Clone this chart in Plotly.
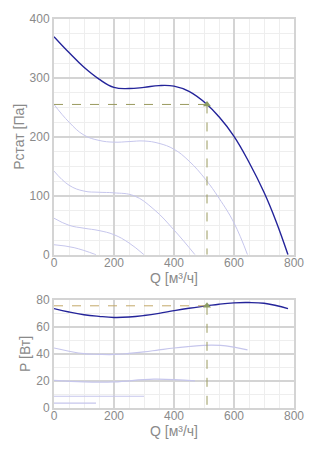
import plotly.graph_objects as go

# Static pressure curves Рстат [Па] vs Q [м³/ч] for several speeds
q_main = [0, 50, 100, 150, 200, 250, 300, 350, 400, 450, 510, 550, 600, 650, 700, 740, 780]
p_main = [370, 343, 318, 298, 284, 282, 284, 287, 286, 277, 255, 234, 201, 157, 106, 57, 0]

q_s2 = [0, 50, 100, 150, 200, 250, 300, 350, 400, 450, 505, 550, 600, 645]
p_s2 = [255, 225, 203, 194, 191, 192, 193, 189, 179, 159, 128, 96, 54, 0]

q_s3 = [0, 50, 100, 150, 200, 267, 333, 400, 470]
p_s3 = [142, 118, 108, 106, 105, 100, 77, 42, 0]

q_s4 = [0, 50, 100, 150, 200, 250, 300]
p_s4 = [62, 50, 45, 41, 34, 20, 0]

q_s5 = [0, 67, 140]
p_s5 = [17, 12, 0]

# Power curves P [Вт] vs Q [м³/ч]
w_main = [73.5, 71, 69, 67.8, 67, 67.3, 68.4, 70, 72, 73.8, 75.6, 76.8, 77.8, 78, 77.5, 75.8, 73.5]
q_w2 = [0, 50, 100, 150, 200, 250, 300, 350, 400, 450, 500, 555, 600, 645]
w_s2 = [44.4, 42, 40.2, 39.7, 39.6, 40.4, 41.5, 43, 44.4, 45.5, 46.4, 46.3, 45, 43]
q_w3 = [0, 100, 200, 333, 470]
w_s3 = [20.4, 19.3, 19.3, 21.3, 20]
q_w4 = [0, 300]
w_s4 = [8.7, 8.7]
q_w5 = [0, 140]
w_s5 = [3.6, 3.6]

# Operating point
q_op = 510
p_op = 255
w_op = 75.6

MAIN = "#24249a"
LIGHT = "#c6c6ec"
GUIDE = "#9a9a5e"

fig = go.Figure()

def line(x, y, color, width, yaxis):
    fig.add_trace(go.Scatter(x=x, y=y, mode="lines", yaxis=yaxis, xaxis="x" if yaxis == "y" else "x2",
                             line=dict(color=color, width=width, shape="spline", smoothing=1.2),
                             hoverinfo="skip", showlegend=False))

for xs, ys in [(q_s5, p_s5), (q_s4, p_s4), (q_s3, p_s3), (q_s2, p_s2)]:
    line(xs, ys, LIGHT, 1, "y")
line(q_main, p_main, MAIN, 1.4, "y")

for xs, ys in [(q_w5, w_s5), (q_w4, w_s4), (q_w3, w_s3), (q_w2, w_s2)]:
    line(xs, ys, LIGHT, 1.2, "y2")
line(q_main, w_main, MAIN, 1.4, "y2")

# Guide lines to the operating point
def guide(x, y, xa, ya, color=GUIDE):
    fig.add_trace(go.Scatter(x=x, y=y, mode="lines", xaxis=xa, yaxis=ya,
                             line=dict(color=color, width=1, dash="dash"),
                             hoverinfo="skip", showlegend=False))

guide([0, q_op], [p_op, p_op], "x", "y")
guide([q_op, q_op], [p_op, 0], "x", "y")
guide([0, q_op], [w_op, w_op], "x2", "y2", "#c4a868")
guide([q_op, q_op], [w_op, 0], "x2", "y2")

for xa, ya, yv in [("x", "y", p_op), ("x2", "y2", w_op)]:
    fig.add_trace(go.Scatter(x=[q_op], y=[yv], mode="markers", xaxis=xa, yaxis=ya,
                             marker=dict(symbol="triangle-up", size=7, color="#8c9c62"),
                             hoverinfo="skip", showlegend=False))

tick_font = dict(family="Arial, Liberation Sans, sans-serif", size=12, color="#8a8a8a")
title_font = dict(family="Arial, Liberation Sans, sans-serif", size=14, color="#8a8a8a")

def xaxis(anchor):
    return dict(range=[0, 800], tickvals=[0, 200, 400, 600, 800], anchor=anchor,
                showgrid=True, gridcolor="#d4d4d4", gridwidth=2,
                minor=dict(dtick=50, showgrid=True, gridcolor="#eeeeee", gridwidth=1),
                showline=True, linecolor="#d4d4d4", linewidth=2, mirror=True,
                zeroline=False, ticks="", tickfont=tick_font, ticklabelstandoff=-4,
                title=dict(text="Q [м³/ч]", font=title_font, standoff=0))

def yaxis(domain, rng, vals, minor_dt, text):
    return dict(domain=domain, range=rng, tickvals=vals,
                showgrid=True, gridcolor="#d4d4d4", gridwidth=2,
                minor=dict(dtick=minor_dt, showgrid=True, gridcolor="#eeeeee", gridwidth=1),
                showline=True, linecolor="#d4d4d4", linewidth=2, mirror=True,
                zeroline=False, ticks="", tickfont=tick_font,
                title=dict(text=text, font=title_font, standoff=2))

fig.update_layout(
    width=328, height=454,
    margin=dict(l=54, r=34, t=12, b=46),
    paper_bgcolor="white", plot_bgcolor="white",
    xaxis=xaxis("y"),
    xaxis2=xaxis("y2"),
    yaxis=yaxis([0.394, 1], [0, 400], [0, 100, 200, 300, 400], 25, "Рстат [Па]"),
    yaxis2=yaxis([0, 0.278], [0, 80], [0, 20, 40, 60, 80], 10, "P [Вт]"),
)

fig.write_html("out.html")
